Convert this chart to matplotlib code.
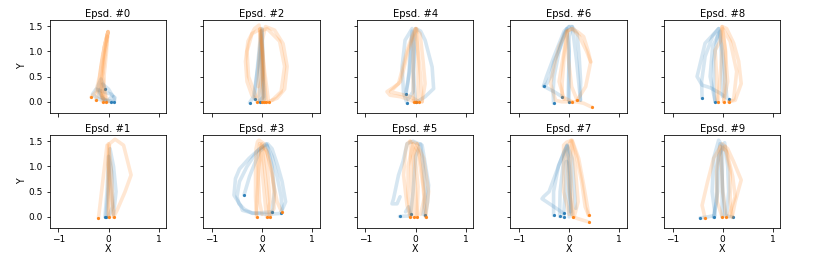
import matplotlib
matplotlib.use("Agg")
import matplotlib.pyplot as plt

# ---- data: trajectories per episode, (x, y) waypoints; first point = start dot ----
EP0_BLUE = [
    [(0.10, 0.00), (0.13, 0.08), (0.05, 0.15), (-0.10, 0.20), (-0.25, 0.25), (-0.32, 0.15), (-0.20, 0.05), (-0.05, 0.02)],
    [(-0.07, 0.26), (-0.15, 0.45), (-0.22, 0.30), (-0.18, 0.10), (-0.02, 0.02), (0.12, 0.02), (0.10, 0.10)],
    [(0.05, 0.00), (-0.10, 0.05), (-0.18, 0.20), (-0.12, 0.35), (0.00, 0.25), (0.08, 0.12), (0.00, 0.03)],
]
EP0_ORANGE = [
    [(-0.35, 0.09), (-0.25, 0.20), (-0.18, 0.50), (-0.12, 0.90), (-0.06, 1.20), (-0.01, 1.39), (-0.08, 1.10), (-0.15, 0.60), (-0.20, 0.25), (-0.10, 0.05)],
    [(-0.25, 0.03), (-0.20, 0.30), (-0.15, 0.70), (-0.08, 1.10), (-0.01, 1.39), (-0.10, 0.90), (-0.15, 0.40), (-0.10, 0.05)],
    [(-0.12, 0.00), (-0.14, 0.35), (-0.10, 0.80), (-0.04, 1.20), (-0.01, 1.39), (-0.06, 1.00), (-0.12, 0.50), (-0.05, 0.10), (0.00, 0.00)],
    [(-0.05, 0.00), (-0.10, 0.30), (-0.08, 0.80), (-0.02, 1.30), (-0.04, 1.00), (-0.10, 0.40), (-0.15, 0.10)],
]
EP1_BLUE = [
    [(-0.05, 0.00), (0.00, 0.60), (0.03, 1.35), (0.10, 1.00), (0.15, 0.50), (0.10, 0.05)],
    [(-0.07, 0.00), (-0.03, 0.50), (0.00, 1.20), (0.06, 0.90), (0.08, 0.20), (0.00, 0.00)],
]
EP1_ORANGE = [
    [(0.10, 0.00), (0.05, 0.50), (0.00, 1.00), (0.02, 1.45), (0.13, 1.54), (0.30, 1.42), (0.45, 0.83), (0.33, 0.50), (0.17, 0.13), (0.10, 0.00)],
    [(-0.20, -0.02), (-0.17, 0.23), (-0.10, 0.83), (-0.03, 1.42), (0.00, 1.00), (0.00, 0.50), (0.00, 0.00)],
    [(0.00, 0.00), (-0.01, 0.70), (0.00, 1.45), (0.05, 1.00), (0.10, 0.00)],
]
EP2_BLUE = [
    [(-0.25, -0.02), (-0.17, 0.10), (-0.08, 0.70), (0.00, 1.42), (0.02, 0.80), (0.03, 0.10), (-0.05, 0.02)],
    [(-0.15, 0.05), (-0.10, 0.60), (-0.02, 1.40), (0.00, 0.70), (0.05, 0.05)],
    [(-0.05, 0.00), (-0.04, 0.70), (0.00, 1.45), (0.01, 0.60), (0.00, 0.00)],
]
EP2_ORANGE = [
    [(-0.10, 0.00), (0.00, 0.50), (0.00, 1.00), (-0.06, 1.52), (-0.15, 1.45), (-0.28, 1.20), (-0.33, 0.80), (-0.30, 0.40), (-0.20, 0.12), (-0.08, 0.02)],
    [(0.00, 0.00), (0.02, 0.60), (0.00, 1.20), (0.07, 1.49), (0.25, 1.42), (0.42, 1.15), (0.50, 0.70), (0.45, 0.25), (0.30, 0.07), (0.13, 0.00)],
    [(0.08, 0.00), (0.03, 0.70), (-0.02, 1.45), (-0.20, 1.35), (-0.30, 1.00), (-0.27, 0.50), (-0.12, 0.10)],
    [(0.13, 0.00), (0.05, 0.60), (-0.03, 1.40), (0.10, 1.45), (0.35, 1.20), (0.45, 0.70), (0.38, 0.20), (0.20, 0.03)],
    [(0.04, 0.00), (-0.02, 0.80), (-0.04, 1.45), (-0.05, 1.00), (-0.08, 0.30)],
]
EP3_BLUE = [
    [(0.37, 0.07), (0.47, 0.30), (0.40, 0.70), (0.31, 1.02), (0.20, 1.35), (0.11, 1.45), (-0.05, 1.35), (-0.26, 1.16), (-0.45, 0.95), (-0.53, 0.76), (-0.56, 0.43), (-0.43, 0.23), (-0.39, 0.13), (-0.20, 0.08), (0.10, 0.05), (0.37, 0.07)],
    [(0.20, 0.10), (-0.19, 0.07), (-0.35, 0.15), (-0.46, 0.26), (-0.50, 0.40), (-0.45, 0.70), (-0.30, 1.00), (-0.10, 1.30), (0.08, 1.45), (0.20, 1.20), (0.30, 0.80), (0.38, 0.40), (0.40, 0.15)],
    [(-0.36, 0.43), (-0.25, 0.80), (-0.05, 1.30), (0.10, 1.42), (0.20, 1.00), (0.25, 0.50), (0.20, 0.10)],
]
EP3_ORANGE = [
    [(-0.11, 0.00), (-0.13, 0.40), (-0.13, 0.83), (-0.12, 1.35), (-0.09, 1.49), (-0.06, 1.52), (0.04, 1.45), (0.15, 1.10), (0.21, 0.83), (0.24, 0.40), (0.24, 0.17), (0.15, 0.00)],
    [(0.09, 0.00), (0.05, 0.40), (0.01, 0.83), (-0.03, 1.42), (0.05, 1.30), (0.12, 0.80), (0.16, 0.30), (0.10, 0.05)],
    [(0.39, 0.10), (0.30, 0.30), (0.20, 0.80), (0.10, 1.30), (-0.05, 1.45), (-0.08, 1.00), (-0.05, 0.30), (0.00, 0.05)],
    [(0.15, 0.00), (0.10, 0.50), (0.02, 1.20), (0.00, 1.45), (-0.06, 1.00), (-0.10, 0.40), (-0.11, 0.05)],
]
EP4_BLUE = [
    [(-0.17, -0.03), (-0.24, 0.17), (-0.27, 0.69), (-0.21, 1.22), (-0.07, 1.45), (-0.10, 1.00), (-0.15, 0.40), (-0.20, 0.10)],
    [(0.00, 0.00), (-0.05, 0.60), (-0.02, 1.20), (0.00, 1.45), (0.10, 1.40), (0.19, 1.22), (0.33, 0.69), (0.36, 0.26), (0.19, 0.10), (0.03, 0.00)],
    [(-0.20, 0.15), (-0.12, 0.60), (-0.07, 1.40), (-0.02, 1.00), (-0.05, 0.20), (-0.15, 0.05)],
]
EP4_ORANGE = [
    [(0.00, 0.00), (-0.07, 0.02), (-0.30, 0.10), (-0.51, 0.13), (-0.57, 0.20), (-0.45, 0.28), (-0.34, 0.36), (-0.25, 0.70), (-0.17, 1.02), (-0.05, 1.35), (0.00, 1.45), (0.05, 1.00), (0.10, 0.50), (0.13, 0.00)],
    [(0.07, 0.00), (-0.10, 0.10), (-0.50, 0.20), (-0.30, 0.40), (-0.15, 1.00), (0.00, 1.45), (0.09, 1.35), (0.15, 0.80), (0.19, 0.36), (0.13, 0.00)],
    [(-0.04, 0.00), (-0.05, 0.50), (-0.05, 1.20), (0.02, 1.45), (0.05, 0.80), (0.05, 0.00)],
]
EP5_BLUE = [
    [(-0.32, 0.01), (-0.10, 0.02), (-0.14, 0.20), (-0.20, 0.10)],
    [(0.19, 0.03), (0.24, 0.30), (0.26, 0.63), (0.20, 1.00), (0.13, 1.42), (-0.05, 1.50), (-0.17, 1.45), (-0.25, 1.10), (-0.34, 0.83), (-0.44, 0.36), (-0.47, 0.26), (-0.37, 0.26), (-0.31, 0.40)],
    [(-0.10, 0.05), (-0.05, 0.50), (0.00, 1.20), (0.10, 1.45), (0.15, 1.00), (0.20, 0.50), (0.15, 0.05)],
]
EP5_ORANGE = [
    [(-0.11, 0.00), (-0.17, 0.23), (-0.24, 0.83), (-0.20, 1.30), (-0.17, 1.45), (-0.11, 1.50), (0.03, 1.45), (0.16, 1.16), (0.26, 0.50), (0.23, 0.23), (0.20, 0.00)],
    [(-0.04, 0.00), (-0.08, 0.60), (-0.10, 1.30), (-0.11, 1.50), (-0.02, 1.30), (0.05, 0.60), (0.03, 0.00)],
    [(0.03, 0.00), (0.00, 0.50), (-0.05, 1.20), (0.03, 1.45), (0.12, 1.00), (0.18, 0.40), (0.10, 0.05)],
    [(0.20, 0.00), (0.15, 0.60), (0.05, 1.30), (-0.05, 1.45), (-0.15, 1.00), (-0.15, 0.40), (-0.10, 0.00)],
]
EP6_BLUE = [
    [(-0.51, 0.31), (-0.45, 0.35), (-0.37, 0.50), (-0.30, 0.80), (-0.20, 1.02), (-0.10, 1.35), (0.00, 1.49), (0.06, 1.49), (0.10, 1.20), (0.15, 0.80), (0.20, 0.30), (0.23, 0.03)],
    [(-0.14, 0.10), (-0.30, 0.20), (-0.51, 0.31), (-0.45, 0.50), (-0.30, 0.90), (-0.10, 1.40), (0.00, 1.49)],
    [(-0.31, -0.03), (-0.32, 0.20), (-0.30, 0.50), (-0.20, 1.00), (-0.05, 1.45), (0.00, 1.00), (-0.01, 0.50), (-0.02, 0.05)],
    [(0.00, 0.00), (0.00, 0.60), (0.00, 1.30), (0.06, 1.49), (0.16, 1.35), (0.20, 0.90), (0.23, 0.40), (0.22, 0.03)],
]
EP6_ORANGE = [
    [(0.46, -0.11), (0.29, -0.03), (0.15, 0.00), (0.06, 0.00), (-0.15, 0.00), (-0.27, 0.03), (-0.37, 0.36), (-0.30, 0.70), (-0.20, 1.10), (-0.05, 1.40), (0.06, 1.45), (0.18, 1.38), (0.29, 1.29), (0.38, 1.00), (0.43, 0.79)],
    [(0.06, 0.00), (-0.14, 0.10), (-0.14, 0.36), (-0.10, 0.90), (-0.03, 1.40), (0.06, 1.45), (0.20, 1.30), (0.35, 1.00), (0.43, 0.79), (0.33, 0.30), (0.16, 0.03)],
    [(0.16, 0.03), (0.05, 0.30), (-0.02, 0.90), (-0.04, 1.40), (-0.10, 1.00), (-0.20, 0.40), (-0.10, 0.05)],
]
EP7_BLUE = [
    [(-0.31, 0.03), (-0.31, 0.50), (-0.21, 1.02), (-0.04, 1.42), (0.06, 1.16), (0.10, 0.60), (0.13, 0.17)],
    [(-0.11, 0.07), (-0.30, 0.20), (-0.54, 0.36), (-0.51, 0.40), (-0.40, 0.50), (-0.25, 0.90), (-0.10, 1.30), (-0.04, 1.42), (0.00, 1.00), (0.02, 0.40), (0.05, 0.05)],
    [(-0.19, 0.01), (-0.18, 0.50), (-0.10, 1.20), (-0.04, 1.40), (0.02, 0.80), (0.03, 0.10)],
    [(-0.11, 0.00), (-0.08, 0.50), (-0.05, 1.10), (-0.02, 0.60), (0.00, 0.00)],
]
EP7_ORANGE = [
    [(0.39, 0.03), (0.36, 0.23), (0.29, 0.63), (0.19, 1.16), (0.06, 1.52), (-0.05, 1.48), (-0.11, 1.42), (-0.11, 0.90), (-0.11, 0.50), (0.00, 0.05)],
    [(0.39, -0.10), (0.16, -0.03), (0.08, 0.00), (0.05, 0.50), (0.02, 1.20), (0.06, 1.50), (0.15, 1.20), (0.25, 0.70), (0.32, 0.20), (0.39, 0.03)],
    [(0.08, 0.00), (0.00, 0.50), (-0.05, 1.30), (0.04, 1.52), (0.12, 1.00), (0.18, 0.30), (0.10, 0.00)],
]
EP8_BLUE = [
    [(-0.41, 0.07), (-0.42, 0.40), (-0.35, 0.90), (-0.20, 1.30), (-0.08, 1.45), (-0.12, 1.20), (-0.18, 0.80), (-0.18, 0.30), (-0.15, 0.00)],
    [(0.12, 0.05), (-0.05, 0.17), (-0.25, 0.28), (-0.41, 0.33), (-0.51, 0.50), (-0.35, 1.16), (-0.08, 1.45), (0.00, 1.00), (0.05, 0.50), (0.08, 0.10)],
    [(-0.15, 0.00), (-0.25, 0.50), (-0.20, 1.10), (-0.05, 1.40), (-0.02, 0.80), (0.00, 0.10)],
]
EP8_ORANGE = [
    [(0.12, 0.00), (0.25, 0.03), (0.37, 0.36), (0.32, 0.80), (0.22, 1.16), (0.08, 1.45), (-0.01, 1.49), (-0.05, 1.20), (-0.15, 1.02), (-0.12, 0.50), (-0.11, 0.03)],
    [(-0.09, 0.00), (-0.05, 0.50), (0.00, 1.20), (-0.01, 1.49), (0.05, 1.02), (0.10, 0.40), (0.02, 0.00)],
    [(0.02, 0.00), (0.05, 0.50), (0.06, 1.00), (0.00, 1.45), (0.15, 1.20), (0.28, 0.60), (0.22, 0.05), (0.12, 0.00)],
]
EP9_BLUE = [
    [(-0.45, -0.02), (-0.30, 0.00), (-0.15, 0.03), (-0.21, 0.50), (-0.18, 1.16), (-0.08, 1.52), (0.00, 1.40), (-0.01, 0.60), (-0.01, 0.00)],
    [(-0.18, -0.01), (-0.10, 0.50), (-0.08, 1.20), (0.04, 1.47), (0.10, 1.00), (0.12, 0.50), (0.08, 0.05)],
    [(0.20, 0.00), (0.05, 0.02), (0.00, 0.60), (-0.05, 1.45), (-0.12, 1.00), (-0.12, 0.30), (-0.18, 0.00)],
]
EP9_ORANGE = [
    [(-0.35, -0.03), (-0.41, 0.23), (-0.30, 0.70), (-0.18, 1.16), (-0.01, 1.45), (0.10, 1.35), (0.22, 1.09), (0.37, 0.73), (0.25, 0.30), (0.19, 0.00)],
    [(-0.01, 0.00), (-0.11, 0.30), (-0.12, 0.90), (-0.05, 1.40), (0.08, 1.30), (0.20, 0.80), (0.25, 0.40), (0.12, 0.00)],
    [(0.07, 0.00), (0.00, 0.50), (-0.03, 1.30), (0.05, 1.40), (0.15, 0.90), (0.15, 0.30), (0.19, -0.01)],
]

EPISODES = [
    (EP0_BLUE, EP0_ORANGE), (EP1_BLUE, EP1_ORANGE), (EP2_BLUE, EP2_ORANGE),
    (EP3_BLUE, EP3_ORANGE), (EP4_BLUE, EP4_ORANGE), (EP5_BLUE, EP5_ORANGE),
    (EP6_BLUE, EP6_ORANGE), (EP7_BLUE, EP7_ORANGE), (EP8_BLUE, EP8_ORANGE),
    (EP9_BLUE, EP9_ORANGE),
]
X_TICKS = [-1, 0, 1]
Y_TICKS = [0.0, 0.5, 1.0, 1.5]

# ---- figure ----
plt.rcParams['font.family'] = ['DejaVu Sans']
plt.rcParams['font.size'] = 10
fig, axes = plt.subplots(2, 5, figsize=(831 / 72, 260 / 72), dpi=72,
                         sharex=True, sharey=True)
fig.subplots_adjust(left=0.060, right=0.939, top=0.923, bottom=0.123,
                    wspace=0.32, hspace=0.24)

colors = ['#1f77b4', '#ff7f0e']
for ep, (blue, orange) in enumerate(EPISODES):
    row = ep % 2
    col = ep // 2
    ax = axes[row, col]
    for color, trajs in zip(colors, (blue, orange)):
        for k, traj in enumerate(trajs):
            xs = [p[0] for p in traj]
            ys = [p[1] for p in traj]
            ax.plot(xs, ys, color=color, lw=3.6, alpha=0.18,
                    solid_capstyle='round', solid_joinstyle='round')
            ax.plot(xs[:1], ys[:1], 'o', color=color, ms=3.2, alpha=0.9,
                    markeredgewidth=0)
    ax.set_title(f"Epsd. #{ep}", fontsize=10, pad=3)
    ax.set_xlim(-1.17, 1.15)
    ax.set_ylim(-0.22, 1.62)
    ax.set_xticks(X_TICKS)
    ax.set_yticks(Y_TICKS)
    ax.tick_params(labelsize=9)
    if row == 1:
        ax.set_xlabel("X", fontsize=9.5, labelpad=0)
    if col == 0:
        ax.set_ylabel("Y", fontsize=9.5, labelpad=1)

fig.savefig("out.png", dpi=72)
